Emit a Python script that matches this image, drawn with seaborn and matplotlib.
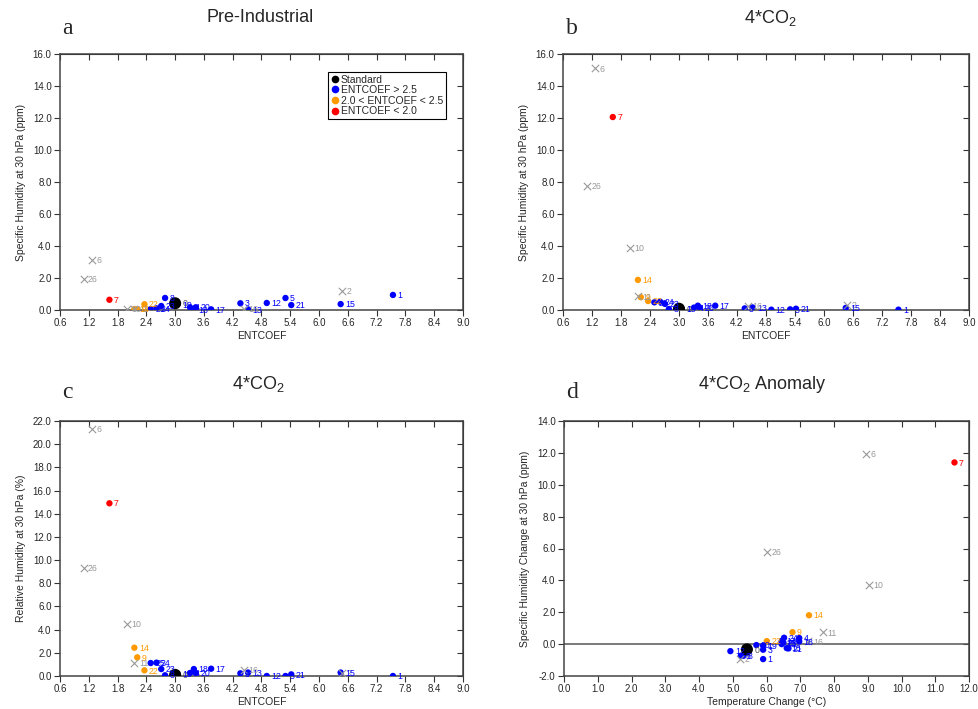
import numpy as np
import pandas as pd
import seaborn as sns
import matplotlib.pyplot as plt
from matplotlib.lines import Line2D

# ensemble members (0 = standard run)
member = [0, 1, 2, 3, 4, 5, 6, 7, 8, 9, 10, 11, 12, 13,
          14, 15, 16, 17, 18, 19, 20, 21, 22, 23, 24, 25, 26]
group = ["std", "hi", "x", "hi", "hi", "hi", "x", "lo", "hi", "mid", "x", "x", "hi", "hi",
         "mid", "hi", "x", "hi", "hi", "hi", "hi", "hi", "mid", "hi", "hi", "hi", "x"]
entcoef = [3.0, 7.54, 6.48, 4.36, 3.31, 5.30, 1.27, 1.63, 2.79, 2.21, 1.99, 2.15, 4.91, 4.52,
           2.15, 6.45, 4.43, 3.75, 3.39, 3.05, 3.43, 5.42, 2.36, 2.71, 2.61, 2.49, 1.09]
sh_pi = [0.42, 0.94, 1.17, 0.42, 0.17, 0.75, 3.12, 0.64, 0.75, 0.05, 0.08, 0.05, 0.44, 0.04,
         0.06, 0.37, 0.06, 0.04, 0.04, 0.35, 0.17, 0.31, 0.36, 0.25, 0.10, 0.06, 1.92]
sh_4co2 = [0.08, 0.02, 0.30, 0.10, 0.15, 0.04, 15.1, 12.06, 0.06, 0.80, 3.87, 0.85, 0.02, 0.16,
           1.88, 0.13, 0.25, 0.27, 0.27, 0.10, 0.15, 0.08, 0.56, 0.38, 0.52, 0.48, 7.75]
rh_4co2 = [0.10, 0.0, 0.30, 0.23, 0.26, 0.0, 21.3, 14.9, 0.06, 1.61, 4.51, 1.15, 0.0, 0.30,
           2.44, 0.30, 0.55, 0.63, 0.60, 0.20, 0.26, 0.14, 0.49, 0.60, 1.15, 1.12, 9.35]
dtemp = [5.42, 5.90, 5.21, 5.90, 6.97, 5.24, 8.96, 11.57, 5.32, 6.77, 9.03, 7.68, 4.93, 6.45,
         7.26, 6.60, 7.24, 6.45, 6.97, 5.90, 5.70, 6.65, 6.01, 6.50, 6.52, 6.45, 6.02]
dsh = [-0.33, -0.94, -0.92, -0.35, 0.38, -0.73, 11.96, 11.40, -0.73, 0.75, 3.71, 0.73, -0.44, 0.0,
       1.81, -0.25, 0.17, 0.20, 0.17, -0.10, -0.06, -0.27, 0.19, 0.10, 0.40, 0.10, 5.79]

df = pd.DataFrame({"member": member, "group": group, "entcoef": entcoef,
                   "sh_pi": sh_pi, "sh_4co2": sh_4co2, "rh_4co2": rh_4co2,
                   "dtemp": dtemp, "dsh": dsh})

colors = {"std": "black", "hi": "#0000ff", "mid": "#ff9900", "lo": "#ff0000", "x": "#999999"}

sns.set_style("ticks")
plt.rcParams["font.family"] = ["Liberation Sans", "DejaVu Sans"]
plt.rcParams["mathtext.fontset"] = "custom"
plt.rcParams["mathtext.rm"] = "Liberation Sans"

fig = plt.figure(figsize=(9.79, 7.09), dpi=100)
W, H = 979, 709


def make_ax(x0, x1, ytop, ybot):
    return fig.add_axes([x0 / W, (H - ybot) / H, (x1 - x0) / W, (ybot - ytop) / H])


axes = [make_ax(60, 463, 54, 310), make_ax(563, 969, 54, 310),
        make_ax(60, 463, 421, 676), make_ax(564, 969, 421, 676)]
ycols = ["sh_pi", "sh_4co2", "rh_4co2", "dsh"]
xcols = ["entcoef", "entcoef", "entcoef", "dtemp"]


def draw(ax, xcol, ycol):
    dots = df[df.group.isin(["hi", "mid", "lo"])]
    sns.scatterplot(data=dots, x=xcol, y=ycol, hue="group", palette=colors,
                    s=21, edgecolor="none", legend=False, ax=ax, zorder=3)
    crosses = df[df.group == "x"]
    ax.scatter(crosses[xcol], crosses[ycol], marker="x", s=28, color=colors["x"],
               linewidths=0.8, zorder=3)
    std = df[df.group == "std"]
    sns.scatterplot(data=std, x=xcol, y=ycol, color="black", s=75,
                    edgecolor="none", legend=False, ax=ax, zorder=4)
    for _, r in df.iterrows():
        c = "#555555" if r.group == "std" else colors[r.group]
        dx = 5.5 if r.group == "std" else 3.2
        ax.annotate(str(r.member), (r[xcol], r[ycol]), xytext=(dx, -0.5),
                    textcoords="offset points", fontsize=6.3, color=c,
                    va="center", ha="left", zorder=5)


def style(ax, xticks, yticks, xlabel, ylabel):
    ax.set_xlim(xticks[0], xticks[-1])
    ax.set_ylim(yticks[0], yticks[-1])
    ax.set_xticks(xticks)
    ax.set_yticks(yticks)
    ax.set_xticklabels([f"{t:.1f}" for t in xticks])
    ax.set_yticklabels([f"{t:.1f}" for t in yticks])
    ax.tick_params(labelsize=7, length=4, width=0.8, color="#333333", pad=2)
    for sp in ax.spines.values():
        sp.set_visible(True)
        sp.set_color("#444444")
        sp.set_linewidth(1.1)
    top = ax.secondary_xaxis("top")
    top.set_xticks(xticks)
    top.tick_params(direction="in", length=4, width=0.8, labeltop=False, color="#333333")
    right = ax.secondary_yaxis("right")
    right.set_yticks(yticks)
    right.tick_params(direction="in", length=4, width=0.8, labelright=False, color="#333333")
    ax.set_xlabel(xlabel, fontsize=7.5, labelpad=2)
    ax.set_ylabel(ylabel, fontsize=7.5, labelpad=5)


ent_ticks = np.round(np.arange(0.6, 9.01, 0.6), 1)
for ax, xc, yc in zip(axes, xcols, ycols):
    draw(ax, xc, yc)

style(axes[0], ent_ticks, np.arange(0, 16.1, 2), "ENTCOEF", "Specific Humidity at 30 hPa (ppm)")
style(axes[1], ent_ticks, np.arange(0, 16.1, 2), "ENTCOEF", "Specific Humidity at 30 hPa (ppm)")
style(axes[2], ent_ticks, np.arange(0, 22.1, 2), "ENTCOEF", "Relative Humidity at 30 hPa (%)")
style(axes[3], np.arange(0, 12.1, 1), np.arange(-2, 14.1, 2),
      "Temperature Change (\u00b0C)", "Specific Humidity Change at 30 hPa (ppm)")
axes[3].axhline(0, color="#555555", lw=1.1, zorder=1)

handles = [Line2D([], [], marker="o", ls="", color=colors[k], markersize=4.5)
           for k in ["std", "hi", "mid", "lo"]]
leg = axes[0].legend(handles, ["Standard", "ENTCOEF > 2.5", "2.0 < ENTCOEF < 2.5", "ENTCOEF < 2.0"],
                     loc="upper right", bbox_to_anchor=(0.97, 0.95), fontsize=7.5,
                     handletextpad=0.2, handlelength=0.8, borderpad=0.25, labelspacing=0.05,
                     fancybox=False, framealpha=1)
leg.get_frame().set_edgecolor("black")
leg.get_frame().set_linewidth(0.8)

titles = ["Pre-Industrial", r"4*CO$_\mathregular{2}$", r"4*CO$_\mathregular{2}$",
          r"4*CO$_\mathregular{2}$ Anomaly"]
letters = ["a", "b", "c", "d"]
title_pos = [(260, 18), (770, 18), (258, 384), (762, 384)]
letter_pos = [(62, 28), (566, 28), (62, 392), (566, 392)]
for t, l, (tx, ty), (lx, ly) in zip(titles, letters, title_pos, letter_pos):
    fig.text(tx / W, 1 - ty / H, t, fontsize=13, ha="center", va="center")
    fig.text(lx / W, 1 - ly / H, l, fontsize=17, ha="left", va="center",
             family=["Liberation Serif", "DejaVu Serif"])

plt.savefig("out.png", dpi=100)
